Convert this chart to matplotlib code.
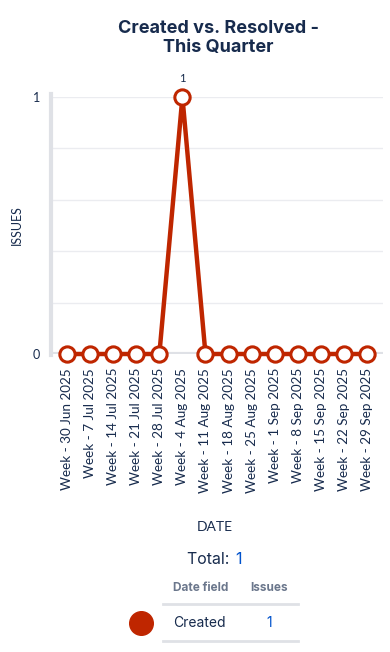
import numpy as np
import matplotlib.pyplot as plt
from matplotlib.lines import Line2D

weeks = ['Week - 30 Jun 2025', 'Week - 7 Jul 2025', 'Week - 14 Jul 2025',
         'Week - 21 Jul 2025', 'Week - 28 Jul 2025', 'Week - 4 Aug 2025',
         'Week - 11 Aug 2025', 'Week - 18 Aug 2025', 'Week - 25 Aug 2025',
         'Week - 1 Sep 2025', 'Week - 8 Sep 2025', 'Week - 15 Sep 2025',
         'Week - 22 Sep 2025', 'Week - 29 Sep 2025']
created = [0, 0, 0, 0, 0, 1, 0, 0, 0, 0, 0, 0, 0, 0]
total_created = 1

navy = '#172B4D'
red = '#BF2600'
grid = '#EBECF0'
blue = '#0052CC'
gray = '#6B778C'

plt.rcParams['font.family'] = ['Lato', 'DejaVu Sans']

W, H = 390, 652
fig = plt.figure(figsize=(W / 100, H / 100), dpi=100)

def fx(px):
    return px / W

def fy(py):
    return 1 - py / H

ax = fig.add_axes([fx(51), fy(354), fx(383) - fx(51), fy(97) - fy(354)])
x = np.arange(len(weeks))
ax.plot(x, created, color=red, lw=3.2, marker='o', markersize=11,
        markerfacecolor='white', markeredgecolor=red, markeredgewidth=2.2,
        clip_on=False, zorder=5)
ax.set_xlim(-0.7, 13.7)
ax.set_ylim(0, 1)

for yy in np.arange(0.2, 1.01, 0.2):
    ax.axhline(yy, color=grid, lw=1, zorder=1)
ax.axhline(0, color='#DFE1E6', lw=3, zorder=2)

for s in ['top', 'right', 'bottom']:
    ax.spines[s].set_visible(False)
ax.spines['left'].set_color('#DFE1E6')
ax.spines['left'].set_linewidth(3)
ax.spines['left'].set_bounds(-0.005, 1.01)

ax.set_yticks([0, 1])
ax.set_yticklabels(['0', '1'], fontsize=9, color=navy)
ax.tick_params(axis='y', length=0, pad=8)
ax.set_xticks(x)
ax.set_xticklabels(weeks, rotation=90, fontsize=9.7, color=navy)
ax.tick_params(axis='x', length=0, pad=10)

peak = int(np.argmax(created))
ax.annotate(str(created[peak]), (peak, created[peak]), xytext=(0, 9),
            textcoords='offset points', ha='center', va='bottom',
            fontsize=8, color=navy)

fig.text(fx(17), fy(225), 'ISSUES', rotation=90, ha='center', va='center',
         fontsize=9, color=navy)
fig.text(fx(215), fy(527), 'DATE', ha='center', va='center',
         fontsize=10, color=navy)

fig.text(fx(218), fy(38), 'Created vs. Resolved -\nThis Quarter', ha='center',
         va='center', fontsize=13, fontweight='bold', color=navy,
         family=['Inter', 'DejaVu Sans'], linespacing=1.15)

# total and table
fig.text(fx(234), fy(560), 'Total: ', ha='right', va='center', fontsize=11.5,
         color=navy, family=['Inter', 'DejaVu Sans'])
fig.text(fx(235), fy(560), str(total_created), ha='left', va='center',
         fontsize=11.5, color=blue, family=['Inter', 'DejaVu Sans'])
fig.text(fx(173), fy(588), 'Date field', ha='left', va='center', fontsize=8.5,
         color=gray, fontweight='bold', family=['Inter', 'DejaVu Sans'])
fig.text(fx(269), fy(588), 'Issues', ha='center', va='center', fontsize=8.5,
         color=gray, fontweight='bold', family=['Inter', 'DejaVu Sans'])
fig.add_artist(Line2D([fx(163), fx(298)], [fy(604), fy(604)], color='#DFE1E6',
                      lw=2, transform=fig.transFigure))
fig.add_artist(Line2D([fx(141)], [fy(623)], marker='o', markersize=17,
                      color=red, transform=fig.transFigure))
fig.text(fx(173), fy(623), 'Created', ha='left', va='center', fontsize=10,
         color=navy, family=['Inter', 'DejaVu Sans'])
fig.text(fx(269), fy(623), str(total_created), ha='center', va='center',
         fontsize=10, color=blue, family=['Inter', 'DejaVu Sans'])
fig.add_artist(Line2D([fx(163), fx(298)], [fy(641), fy(641)], color='#DFE1E6',
                      lw=2, transform=fig.transFigure))

fig.savefig('out.png', dpi=100)
